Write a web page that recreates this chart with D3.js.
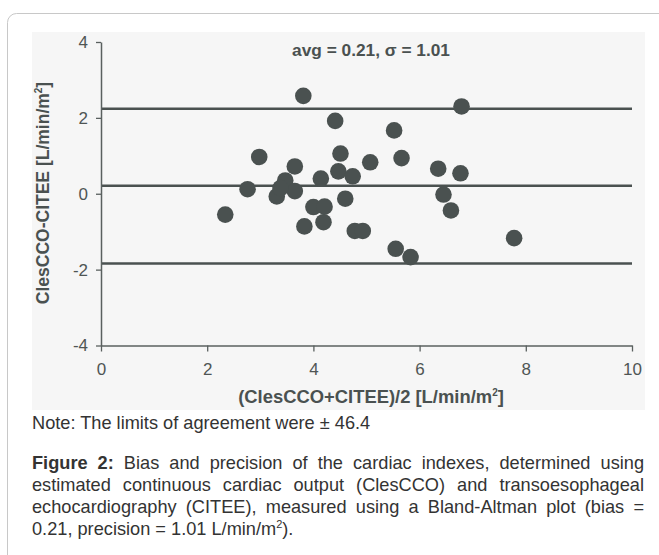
<!DOCTYPE html>
<html>
<head>
<meta charset="utf-8">
<script src="https://cdn.jsdelivr.net/npm/d3@7"></script>
<style>
  body { margin: 0; background: #fff; font-family: "Liberation Sans", Arial, sans-serif; }
  #wrap { position: relative; width: 659px; height: 555px; overflow: hidden; }
  svg { position: absolute; left: 0; top: 0; }
  .cap { position: absolute; left: 32px; width: 612px; font-size: 18.2px; color: #333; }
  .cap div { height: 22px; line-height: 22px; text-align: justify; text-align-last: justify; white-space: nowrap; }
  .cap div.last { text-align-last: left; }
</style>
</head>
<body>
<div id="wrap"></div>
<script>
'use strict';

// Bland-Altman points: mean of the two methods vs their difference
var meanValues = [3.81, 4.41, 2.98, 3.65, 4.51, 5.07, 4.47, 4.74, 4.14, 3.47, 2.76, 3.31, 3.65, 3.38,
  2.34, 4.00, 4.21, 4.60, 3.83, 4.19, 4.78, 4.93, 6.79, 5.52, 5.66, 6.35, 6.77, 6.45, 6.59, 5.55, 5.83, 7.78];
var diffValues = [2.58, 1.92, 0.97, 0.72, 1.06, 0.83, 0.59, 0.46, 0.40, 0.35, 0.12, -0.07, 0.07, 0.15,
  -0.55, -0.35, -0.34, -0.13, -0.86, -0.75, -0.98, -0.98, 2.30, 1.67, 0.94, 0.66, 0.54, -0.02, -0.44, -1.45, -1.67, -1.17];

// bias and limits of agreement
var refLines = [2.24, 0.21, -1.84];

var xTicks = [0, 2, 4, 6, 8, 10];
var yTicks = [-4, -2, 0, 2, 4];

var titleText = 'avg = 0.21, \u03c3 = 1.01';
var noteText = 'Note: The limits of agreement were \u00b1 46.4';

var color = '#4a5150';
var width = 659, height = 555;

var wrap = d3.select('#wrap');
var svg = wrap.append('svg')
  .attr('width', width)
  .attr('height', height);

// card border (runs off the right and bottom edge)
svg.append('rect')
  .attr('x', 7.5).attr('y', 13.5)
  .attr('width', 720).attr('height', 620)
  .attr('rx', 9)
  .attr('fill', '#fff')
  .attr('stroke', '#c8c8c8');

// plot panel background
svg.append('rect')
  .attr('x', 32).attr('y', 32)
  .attr('width', 613).attr('height', 378)
  .attr('fill', '#f6f6f6');

var x = d3.scaleLinear().domain([0, 10]).range([101, 632]);
var y = d3.scaleLinear().domain([-4, 4]).range([345.5, 42]);

// reference lines
svg.selectAll('line.ref')
  .data(refLines)
  .enter().append('line')
    .attr('class', 'ref')
    .attr('x1', x(0)).attr('x2', x(10))
    .attr('y1', function(d) { return y(d); })
    .attr('y2', function(d) { return y(d); })
    .attr('stroke', color)
    .attr('stroke-width', 2.6);

// axes
var fmt = function(d) { return String(d); };
var xAxis = d3.axisBottom(x).tickValues(xTicks).tickFormat(fmt)
  .tickSizeInner(6).tickSizeOuter(0).tickPadding(11);
var yAxis = d3.axisLeft(y).tickValues(yTicks).tickFormat(fmt)
  .tickSizeInner(5).tickSizeOuter(0).tickPadding(8);

var gx = svg.append('g')
  .attr('transform', 'translate(0,' + y(-4) + ')')
  .call(xAxis);
var gy = svg.append('g')
  .attr('transform', 'translate(' + x(0) + ',0)')
  .call(yAxis);

[gx, gy].forEach(function(g) {
  g.select('.domain').attr('stroke', '#5a605f').attr('stroke-width', 1.5);
  g.selectAll('.tick line').attr('stroke', '#5a605f').attr('stroke-width', 1.3);
  g.selectAll('.tick text')
    .attr('fill', '#4f5554')
    .style('font-family', '"Liberation Sans", Arial, sans-serif')
    .style('font-size', '17px');
});

// points
svg.selectAll('circle.pt')
  .data(meanValues)
  .enter().append('circle')
    .attr('class', 'pt')
    .attr('cx', function(d) { return x(d); })
    .attr('cy', function(d, i) { return y(diffValues[i]); })
    .attr('r', 8.3)
    .attr('fill', color);

// title inside the plot
svg.append('text')
  .attr('x', 371).attr('y', 56)
  .attr('text-anchor', 'middle')
  .attr('fill', color)
  .style('font-weight', 'bold')
  .style('font-size', '17.3px')
  .text(titleText);

// axis titles
var xt = svg.append('text')
  .attr('x', 371).attr('y', 403)
  .attr('text-anchor', 'middle')
  .attr('fill', color)
  .style('font-weight', 'bold')
  .style('font-size', '18.4px')
  .text('(ClesCCO+CITEE)/2 [L/min/m');
xt.append('tspan').attr('dy', -7).style('font-size', '10px').text('2');
xt.append('tspan').attr('dy', 7).text(']');

var yt = svg.append('text')
  .attr('transform', 'translate(49,193) rotate(-90)')
  .attr('text-anchor', 'middle')
  .attr('fill', color)
  .style('font-weight', 'bold')
  .style('font-size', '17.5px')
  .text('ClesCCO-CITEE [L/min/m');
yt.append('tspan').attr('dy', -7).style('font-size', '10px').text('2');
yt.append('tspan').attr('dy', 7).text(']');

// note and figure caption
wrap.append('div')
  .attr('class', 'cap')
  .style('top', '412px')
  .append('div').attr('class', 'last').text(noteText);

var cap = wrap.append('div')
  .attr('class', 'cap')
  .style('top', '452px');
var l1 = cap.append('div');
l1.append('b').text('Figure 2:');
l1.append('span').text(' Bias and precision of the cardiac indexes, determined using');
cap.append('div').text('estimated continuous cardiac output (ClesCCO) and transoesophageal');
cap.append('div').text('echocardiography (CITEE), measured using a Bland-Altman plot (bias =');
var l4 = cap.append('div').attr('class', 'last');
l4.append('span').text('0.21, precision = 1.01 L/min/m');
l4.append('sup').style('font-size', '11px').style('line-height', '0').text('2');
l4.append('span').text(').');
</script>
</body>
</html>
